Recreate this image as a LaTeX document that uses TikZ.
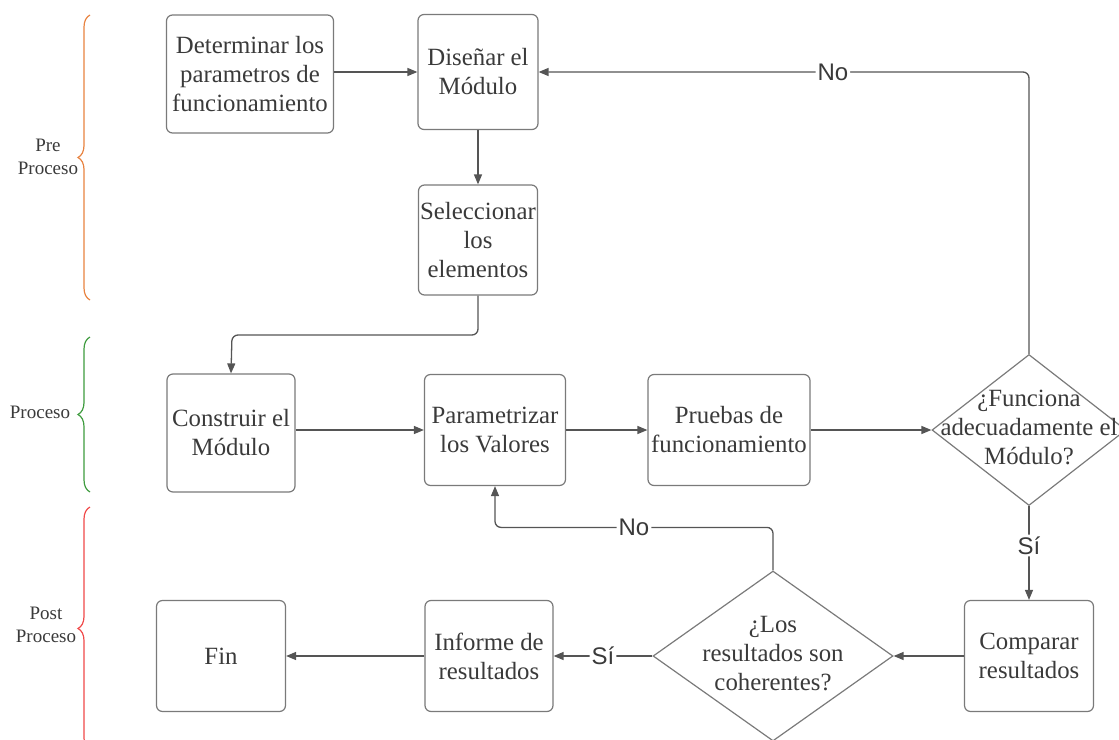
\documentclass[tikz,border=0pt]{standalone}
\usepackage{fontspec}
\setmainfont{Liberation Serif}
\newfontfamily\tagfont{Liberation Sans}
\usetikzlibrary{shapes.geometric,arrows.meta,decorations.pathreplacing}

\definecolor{linegray}{HTML}{555555}
\definecolor{boxgray}{HTML}{7A7A7A}
\definecolor{textgray}{HTML}{3A3A3A}
\definecolor{preorange}{HTML}{E8823F}
\definecolor{progreen}{HTML}{3E9B3E}
\definecolor{postred}{HTML}{F04848}

\begin{document}
\begin{tikzpicture}[x=0.5pt,y=-0.5pt,
  box/.style={draw=boxgray, line width=0.6pt, rounded corners=3pt, inner sep=0pt,
    align=center, text=textgray, font=\fontsize{12.4}{14.5}\selectfont},
  decision/.style={draw=boxgray, line width=0.6pt, shape=diamond, inner sep=0pt,
    text=textgray, font=\fontsize{12.4}{14.5}\selectfont},
  conn/.style={draw=linegray, line width=0.65pt, rounded corners=3pt,
    -{Triangle[length=5pt,width=4pt]}},
  tag/.style={fill=white, inner sep=1pt, text=textgray, font=\tagfont\fontsize{12}{14}\selectfont},
  side/.style={align=center, text=textgray, font=\fontsize{9.5}{11.5}\selectfont},
  bracket/.style={line width=0.6pt, decorate, decoration={brace, amplitude=6pt}}]

  \useasboundingbox (0,0) rectangle (1119,739);

  % Pre proceso
  \node[box, minimum width=83.5pt, minimum height=59pt] (det) at (250,74) {Determinar los\\parametros de\\funcionamiento};
  \node[box, minimum width=60pt, minimum height=57.5pt] (dis) at (478,72) {Diseñar el\\Módulo};
  \node[box, minimum width=59.5pt, minimum height=55pt] (sel) at (478,240) {Seleccionar\\los\\elementos};

  % Proceso
  \node[box, minimum width=64pt, minimum height=59pt] (cons) at (231,433) {Construir el\\Módulo};
  \node[box, minimum width=70.5pt, minimum height=55.5pt] (par) at (495,430) {Parametrizar\\los Valores};
  \node[box, minimum width=81pt, minimum height=55.5pt] (prue) at (729,430) {Pruebas de\\funcionamiento};
  \node[decision, minimum width=97pt, minimum height=75.5pt] (dec1) at (1029,430)
    {\makebox[0pt]{\begin{tabular}{@{}c@{}}¿Funciona\\adecuadamente el\\Módulo?\end{tabular}}};

  % Post proceso
  \node[box, minimum width=64.5pt, minimum height=55.5pt] (comp) at (1029,656) {Comparar\\resultados};
  \node[decision, minimum width=120pt, minimum height=85pt] (dec2) at (773,656)
    {\makebox[0pt]{\begin{tabular}{@{}c@{}}¿Los\\resultados son\\coherentes?\end{tabular}}};
  \node[box, minimum width=64pt, minimum height=55.5pt] (inf) at (489,656) {Informe de\\resultados};
  \node[box, minimum width=64.5pt, minimum height=55.5pt] (fin) at (221,656) {Fin};

  % Connectors
  \coordinate (selbend) at (232,335);
  \draw[conn] (det.east |- dis.west) -- (dis.west);
  \draw[conn] (dis.south) -- (sel.north);
  \draw[conn] (sel.south) |- (selbend) -- (cons.north);
  \draw[conn] (cons.east |- par.west) -- (par.west);
  \draw[conn] (par.east) -- (prue.west);
  \draw[conn] (prue.east) -- (dec1.west);
  \draw[conn] (dec1.north) |- node[tag, pos=0.70] {No} (dis.east);
  \draw[conn] (dec1.south) -- node[tag, pos=0.42] {Sí} (comp.north);
  \draw[conn] (comp.west) -- (dec2.east);
  \draw[conn] (dec2.west) -- node[tag] {Sí} (inf.east);
  \draw[conn] (dec2.north) -- ++(0,-43) -| node[tag, pos=0.25] {No} (par.south);
  \draw[conn] (inf.west) -- (fin.east);

  % Stage braces
  \draw[bracket, preorange] (90,300) -- (90,15);
  \draw[bracket, progreen] (90,492) -- (90,337);
  \draw[bracket, postred] (90,750) -- (90,507);
  \node[side] (pre) at (48,157) {Pre\\Proceso};
  \node[side] (pro) at (40,412) {Proceso};
  \node[side] (post) at (46,625) {Post\\Proceso};

\end{tikzpicture}
\end{document}
